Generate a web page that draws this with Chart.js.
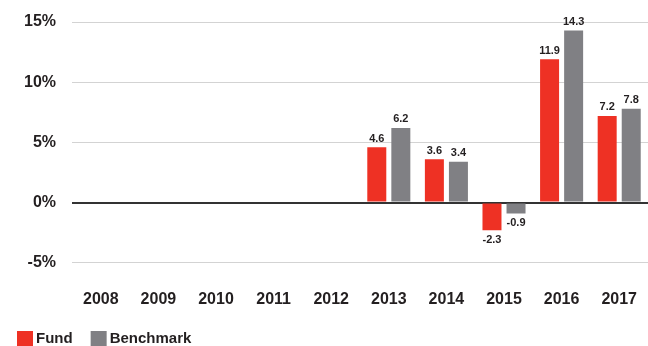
<!DOCTYPE html>
<html>
<head>
<meta charset="utf-8">
<script src="https://cdn.jsdelivr.net/npm/chart.js@4"></script>
<style>
  html, body { margin: 0; padding: 0; background: #fff; }
  #wrap { width: 648px; height: 346px; position: relative; }
</style>
</head>
<body>
<div id="wrap"><canvas id="perf"></canvas></div>
<script>
// Annual returns, % (no data before 2013)
const years = ['2008', '2009', '2010', '2011', '2012', '2013', '2014', '2015', '2016', '2017'];
const fund = [null, null, null, null, null, 4.6, 3.6, -2.3, 11.9, 7.2];
const benchmark = [null, null, null, null, null, 6.2, 3.4, -0.9, 14.3, 7.8];
const yTicks = [-5, 0, 5, 10, 15];

const RED = '#ee3124';
const GREY = '#808084';
const INK = '#231f20';
const FONT = '"Liberation Sans", Arial, sans-serif';

// value labels above / below each bar
const barLabels = {
    id: 'barLabels',
    afterDatasetsDraw(chart) {
        const { ctx } = chart;
        ctx.save();
        ctx.font = 'bold 11px ' + FONT;
        ctx.fillStyle = INK;
        ctx.textAlign = 'center';
        chart.data.datasets.forEach((ds, i) => {
            chart.getDatasetMeta(i).data.forEach((bar, j) => {
                const v = ds.data[j];
                if (v === null || v === undefined) return;
                if (v >= 0) {
                    ctx.textBaseline = 'bottom';
                    ctx.fillText(v.toFixed(1), bar.x, bar.y - 3);
                } else {
                    ctx.textBaseline = 'top';
                    ctx.fillText(v.toFixed(1), bar.x, bar.y + 4);
                }
            });
        });
        ctx.restore();
    },
};

// flat legend: square swatch, tight gap, bottom left
const swatchLegend = {
    id: 'swatchLegend',
    afterDraw(chart) {
        const { ctx } = chart;
        ctx.save();
        ctx.font = 'bold 15px ' + FONT;
        ctx.textBaseline = 'middle';
        ctx.textAlign = 'left';
        let x = 17;
        const y = 331;
        chart.data.datasets.forEach((ds) => {
            ctx.fillStyle = ds.backgroundColor;
            ctx.fillRect(x, y, 16, 15);
            ctx.fillStyle = INK;
            ctx.fillText(ds.label, x + 19, y + 8);
            x += 19 + ctx.measureText(ds.label).width + 18;
        });
        ctx.restore();
    },
};

new Chart(document.getElementById('perf'), {
    type: 'bar',
    data: {
        labels: years,
        datasets: [
            { label: 'Fund', data: fund, backgroundColor: RED },
            { label: 'Benchmark', data: benchmark, backgroundColor: GREY },
        ],
    },
    options: {
        responsive: true,
        maintainAspectRatio: false,
        animation: false,
        categoryPercentage: 0.835,
        barPercentage: 0.79,
        layout: { padding: { top: 22, right: 0, bottom: 37, left: 24 } },
        plugins: {
            legend: { display: false },
            tooltip: { enabled: false },
        },
        scales: {
            x: {
                // invisible tick marks keep the labels clear of the plot
                grid: { drawOnChartArea: false, drawTicks: true, tickLength: 27, tickColor: 'transparent' },
                border: { display: false },
                ticks: {
                    color: INK,
                    font: { family: FONT, size: 16, weight: 'bold' },
                    padding: 0,
                },
            },
            y: {
                min: -5,
                max: 15,
                afterBuildTicks: (axis) => { axis.ticks = yTicks.map((v) => ({ value: v })); },
                grid: {
                    drawTicks: true,
                    tickLength: 16,
                    tickColor: 'transparent',
                    color: (c) => (c.tick && c.tick.value === 0 ? '#333333' : '#d3d3d3'),
                    lineWidth: (c) => (c.tick && c.tick.value === 0 ? 2 : 1),
                },
                border: { display: false },
                ticks: {
                    color: INK,
                    font: { family: FONT, size: 16, weight: 'bold' },
                    padding: 0,
                    callback: (v) => v + '%',
                },
            },
        },
    },
    plugins: [barLabels, swatchLegend],
});
</script>
</body>
</html>
